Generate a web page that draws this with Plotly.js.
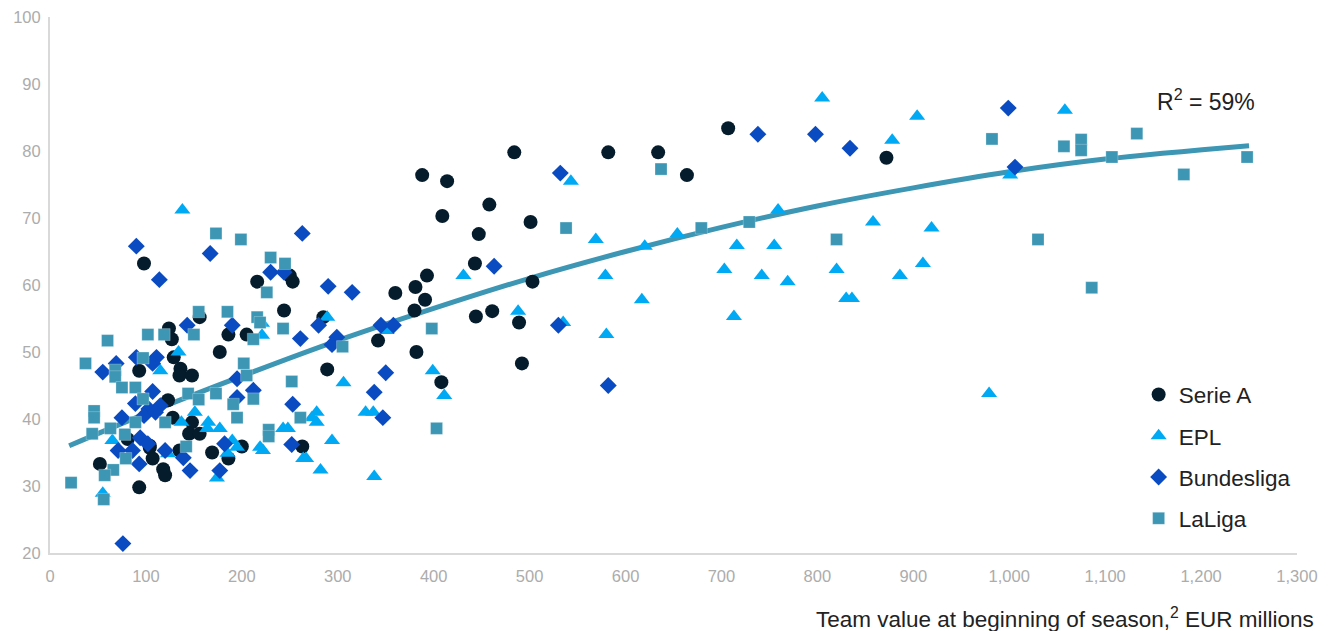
<!DOCTYPE html>
<html>
<head>
<meta charset="utf-8">
<script src="https://cdn.plot.ly/plotly-3.0.1.min.js"></script>
<style>html,body{margin:0;padding:0;background:#fff;}#chart{width:1329px;height:631px;}</style>
</head>
<body>
<div id="chart"></div>
<script>
// Serie A
const serieAX = [98,216,156,124,127,186,205,177,129,136,135,148,93,123,128,148,145,156,104,107,169,186,135,52,118,120,93,81,104,200,250,253,244,285,360,381,393,391,380,342,382,408,289,263,484,582,634,388,414,458,409,501,447,443,503,444,461,489,492,707,664,872];
const serieAY = [63.2,60.5,55.2,53.5,51.9,52.6,52.6,50.0,49.2,47.5,46.5,46.5,47.2,42.8,40.2,39.5,37.8,37.8,35.7,34.1,35.0,34.1,35.3,33.3,32.5,31.6,29.8,37.0,36.0,35.9,61.4,60.5,56.2,55.2,58.8,59.7,61.4,57.8,56.2,51.7,50.0,45.5,47.4,35.9,79.8,79.8,79.8,76.4,75.5,72.0,70.3,69.4,67.6,63.2,60.5,55.3,56.1,54.4,48.3,83.4,76.4,79.0];
// EPL
const eplX = [138,805,904,878,759,858,919,654,716,755,703,742,769,820,886,910,830,836,713,979,1058,1001,543,569,620,431,579,617,488,535,580,351,399,411,306,329,337,278,273,278,243,248,294,222,264,267,282,338,289,221,221,177,165,190,195,185,219,174,134,115,151,137,123,65,55,164];
const eplY = [71.2,87.9,85.2,81.6,71.2,69.4,68.5,67.6,65.9,65.9,62.3,61.4,60.5,62.3,61.4,63.2,58.0,58.0,55.3,43.8,86.1,76.4,75.5,66.8,65.8,61.4,61.4,57.8,56.1,54.4,52.6,53.2,47.2,43.5,45.4,41.0,41.0,41.0,40.2,39.5,38.6,38.6,36.8,35.3,34.1,34.1,32.4,31.4,55.2,54.3,52.5,38.6,39.5,36.8,35.8,34.9,35.8,31.2,50.0,47.2,41.0,39.5,34.8,36.8,28.9,38.6];
// Bundesliga
const bundesX = [90,167,114,143,190,55,69,90,111,107,195,107,89,115,75,94,71,86,102,120,139,93,146,177,182,76,212,195,263,230,244,290,315,261,280,299,294,345,358,350,338,347,253,252,532,463,530,582,738,798,834,999,1006,103,98,110];
const bundesY = [65.8,64.7,60.8,54.0,54.0,47.0,48.3,49.2,49.2,48.3,46.0,44.1,42.3,42.0,40.2,37.2,35.3,35.3,36.3,35.3,34.2,33.3,32.3,32.3,36.3,21.4,44.3,43.2,67.7,61.9,61.9,59.8,58.9,52.0,54.0,52.2,51.1,54.0,54.0,46.9,44.0,40.2,42.2,36.2,76.7,62.8,54.0,45.0,82.5,82.5,80.4,86.4,77.6,41.5,40.5,41.0];
// LaLiga
const laligaX = [173,199,155,185,216,60,102,119,150,212,37,97,68,68,75,89,97,202,205,212,144,155,173,191,195,120,89,63,44,46,46,78,142,79,66,57,22,56,230,245,226,219,243,305,398,252,261,228,228,403,538,637,679,729,820,982,1057,1075,1075,1133,1107,1248,1182,1030,1086];
const laligaY = [67.7,66.8,56.0,56.0,55.2,51.7,52.6,52.6,52.6,51.9,48.3,49.1,47.3,46.3,44.7,44.7,43.0,48.3,46.5,43.0,43.8,42.9,43.8,42.2,40.2,39.5,39.5,38.6,37.8,41.2,40.2,37.7,35.9,34.1,32.4,31.6,30.5,28.0,64.1,63.2,58.9,54.4,53.5,50.8,53.5,45.6,40.2,38.4,37.4,38.6,68.5,77.3,68.5,69.4,66.8,81.8,80.7,81.7,80.1,82.6,79.1,79.1,76.5,66.8,59.6];
// Trend line
const trendX = [20,100,200,300,400,500,600,700,800,900,1000,1100,1250];
const trendY = [36.0,40.8,46.4,51.7,56.5,61.0,65.0,68.6,71.8,74.5,76.9,78.8,80.8];

const xTicks = [0,100,200,300,400,500,600,700,800,900,1000,1100,1200,1300];
const xTickText = ['0','100','200','300','400','500','600','700','800','900','1,000','1,100','1,200','1,300'];
const yTicks = [20,30,40,50,60,70,80,90,100];

const FONT = 'Liberation Sans, Arial, sans-serif';
const traces = [
  {x: trendX, y: trendY, type:'scatter', mode:'lines', line:{color:'#3c96b4', width:5, shape:'spline'}, showlegend:false, hoverinfo:'skip'},
  {x: serieAX, y: serieAY, name:'Serie A', type:'scatter', mode:'markers', legendgroup:'a', marker:{symbol:'circle', size:14, color:'#051c2c'}},
  {x: eplX, y: eplY, name:'EPL', type:'scatter', mode:'markers', legendgroup:'b', marker:{symbol:'triangle-up', size:14, color:'#00a9f4'}},
  {x: bundesX, y: bundesY, name:'Bundesliga', type:'scatter', mode:'markers', legendgroup:'c', marker:{symbol:'diamond', size:13, color:'#0a4bc2'}},
  {x: laligaX, y: laligaY, name:'LaLiga', type:'scatter', mode:'markers', legendgroup:'d', marker:{symbol:'square', size:12, color:'#3c96b4', line:{color:'rgba(255,255,255,0.5)', width:0.5}}}
];

const layout = {
  width:1329, height:631,
  margin:{l:50, r:32, t:17, b:78},
  paper_bgcolor:'#fff', plot_bgcolor:'#fff',
  font:{family:FONT, color:'#222'},
  xaxis:{range:[0,1300], tickvals:xTicks, ticktext:xTickText, showgrid:false, zeroline:false, showline:true, linecolor:'#d9d9d9', linewidth:2, ticks:'', tickfont:{size:16.5, color:'#acacac'}, ticklabelstandoff:7},
  yaxis:{range:[20,100], tickvals:yTicks, showgrid:false, zeroline:false, showline:true, linecolor:'#d9d9d9', linewidth:2, ticks:'', tickfont:{size:16.5, color:'#acacac'}, ticklabelstandoff:4},
  showlegend:true,
  legend:{x:0.873, y:0.335, xanchor:'left', yanchor:'top', traceorder:'grouped', tracegroupgap:9, font:{size:22.5, color:'#222'}, bgcolor:'rgba(0,0,0,0)'},
  annotations:[
    {text:'R<sup>2</sup> = 59%', xref:'paper', yref:'y', x:0.968, y:87.6, xanchor:'right', yanchor:'middle', showarrow:false, font:{size:23, color:'#222'}},
    {text:'Team value at beginning of season,<sup>2</sup> EUR millions', xref:'paper', yref:'paper', x:1, y:0, xanchor:'right', yanchor:'middle', xshift:19, yshift:-65, showarrow:false, font:{size:22.5, color:'#222'}}
  ]
};

Plotly.newPlot('chart', traces, layout, {displayModeBar:false, staticPlot:true});
</script>
</body>
</html>
